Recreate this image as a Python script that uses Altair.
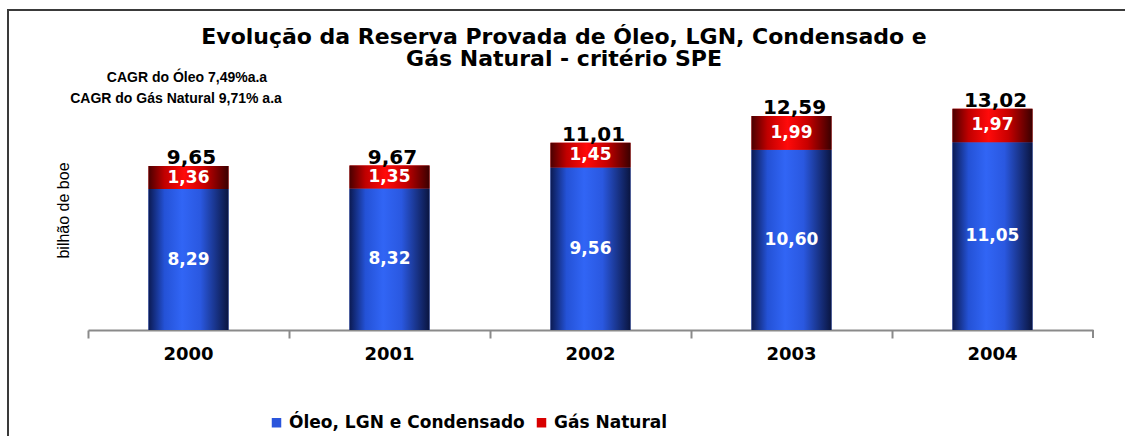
import altair as alt
import pandas as pd

years = ["2000", "2001", "2002", "2003", "2004"]
oleo = [8.29, 8.32, 9.56, 10.60, 11.05]
gas = [1.36, 1.35, 1.45, 1.99, 1.97]
totais = [9.65, 9.67, 11.01, 12.59, 13.02]
series = ["Óleo, LGN e Condensado", "Gás Natural"]
title_lines = ["Evolução da Reserva Provada de Óleo, LGN, Condensado e",
               "Gás Natural - critério SPE"]
cagr_lines = ["CAGR do Óleo 7,49%a.a", "CAGR do Gás Natural 9,71% a.a"]


def br(v):
    return f"{v:.2f}".replace(".", ",")


rows = []
for i, y in enumerate(years):
    rows.append(dict(ano=y, serie=series[0], start=0.0, end=oleo[i],
                     mid=oleo[i] / 2, label=br(oleo[i])))
    rows.append(dict(ano=y, serie=series[1], start=oleo[i], end=oleo[i] + gas[i],
                     mid=oleo[i] + gas[i] / 2, label=br(gas[i])))
df = pd.DataFrame(rows)
tot = pd.DataFrame(dict(ano=years, total=totais, label=[br(v) for v in totais]))
one = pd.DataFrame({"k": [0]})

W, H = 1005, 238
PL, PT, PR, PB = 88, 92, 32, 106
FONT = "DejaVu Sans"

xenc = alt.X("ano:N", sort=years,
             scale=alt.Scale(paddingInner=0, paddingOuter=0),
             axis=alt.Axis(title=None, labelAngle=0, labelFont=FONT, labelFontSize=18,
                           labelFontWeight="bold", labelColor="#000",
                           domainColor="#8a8a8a", domainWidth=2, tickColor="#8a8a8a",
                           tickWidth=2, tickSize=8, bandPosition=0, labelPadding=7))
yscale = alt.Scale(domain=[0, 14], nice=False, zero=True)
yenc = alt.Y("start:Q", scale=yscale,
             axis=alt.Axis(title="bilhão de boe", labels=False, ticks=False, domain=False,
                           grid=False, titleFont="Liberation Sans",
                           titleFontSize=16, titleFontWeight="normal", titleColor="#000",
                           titleAngle=-90, titleX=-25, titleY=118, titleAlign="center",
                           titleBaseline="middle"))

base = alt.Chart(df)

legend_bars = base.mark_bar(size=80).encode(
    x=xenc, y=yenc, y2="end:Q",
    color=alt.Color("serie:N", sort=series,
                    scale=alt.Scale(domain=series, range=["#2a55dc", "#d80000"]),
                    legend=alt.Legend(title=None, orient="none", legendX=180, legendY=322,
                                      direction="horizontal", symbolType="square",
                                      symbolSize=90, symbolStrokeWidth=0,
                                      labelFont=FONT, labelFontSize=17, labelLimit=400,
                                      labelFontWeight="bold", labelColor="#000",
                                      columnPadding=8, labelOffset=4, padding=0)),
)

blue_grad = alt.Gradient(gradient="linear", x1=0, x2=1, y1=0, y2=0, stops=[
    alt.GradientStop(color="#0b1a52", offset=0),
    alt.GradientStop(color="#2452d6", offset=0.2),
    alt.GradientStop(color="#3165f5", offset=0.42),
    alt.GradientStop(color="#2a58e0", offset=0.65),
    alt.GradientStop(color="#0a1540", offset=1)])
red_grad = alt.Gradient(gradient="linear", x1=0, x2=1, y1=0, y2=0, stops=[
    alt.GradientStop(color="#4a0000", offset=0),
    alt.GradientStop(color="#c00000", offset=0.2),
    alt.GradientStop(color="#ff0a0a", offset=0.45),
    alt.GradientStop(color="#c80000", offset=0.7),
    alt.GradientStop(color="#3a0000", offset=1)])

oil_bars = base.transform_filter(alt.datum.serie == series[0]).mark_bar(
    size=80, color=blue_grad).encode(x=xenc, y=alt.Y("start:Q", scale=yscale), y2="end:Q")
gas_bars = base.transform_filter(alt.datum.serie == series[1]).mark_bar(
    size=80, color=red_grad).encode(x=xenc, y=alt.Y("start:Q", scale=yscale), y2="end:Q")

seg_text = base.mark_text(font=FONT, fontSize=17, fontWeight="bold", color="white",
                          baseline="middle").encode(
    x=alt.X("ano:N", sort=years), y=alt.Y("mid:Q", scale=yscale), text="label:N")

tot_text = alt.Chart(tot).mark_text(font=FONT, fontSize=20, fontWeight="bold",
                                    color="#000", baseline="alphabetic", dy=-2, dx=3).encode(
    x=alt.X("ano:N", sort=years), y=alt.Y("total:Q", scale=yscale), text="label:N")

end_tick = alt.Chart(one).mark_rule(color="#8a8a8a", strokeWidth=2).encode(
    x=alt.value(W), y=alt.value(H), y2=alt.value(H + 8))

frame_left = alt.Chart(one).mark_rule(color="#3a3a3a", strokeWidth=2).encode(
    x=alt.value(-80), y=alt.value(-83), y2=alt.value(H + PB))
frame_top = alt.Chart(one).mark_rule(color="#3a3a3a", strokeWidth=2).encode(
    x=alt.value(-81), x2=alt.value(W + PR), y=alt.value(-82))


def text_at(txt, x, y, font, size):
    return alt.Chart(pd.DataFrame({"t": [txt]})).mark_text(
        font=font, fontSize=size, fontWeight="bold", color="#000",
        align="center", baseline="middle").encode(
        x=alt.value(x), y=alt.value(y), text="t:N")


title1 = text_at(title_lines[0], 476, -55, FONT, 22)
title2 = text_at(title_lines[1], 476, -33, FONT, 22)
cagr1 = text_at(cagr_lines[0], 99, -14, "Liberation Sans", 14)
cagr2 = text_at(cagr_lines[1], 88, 7, "Liberation Sans", 14)

chart = alt.layer(legend_bars, oil_bars, gas_bars, seg_text, tot_text, end_tick,
                  frame_left, frame_top, title1, title2, cagr1, cagr2).properties(
    width=W, height=H,
    padding={"left": PL, "top": PT, "right": PR, "bottom": PB},
    autosize=alt.AutoSizeParams(type="none"),
).configure_view(strokeWidth=0)

chart.save("out.html", embed_options={"renderer": "svg", "actions": False})
